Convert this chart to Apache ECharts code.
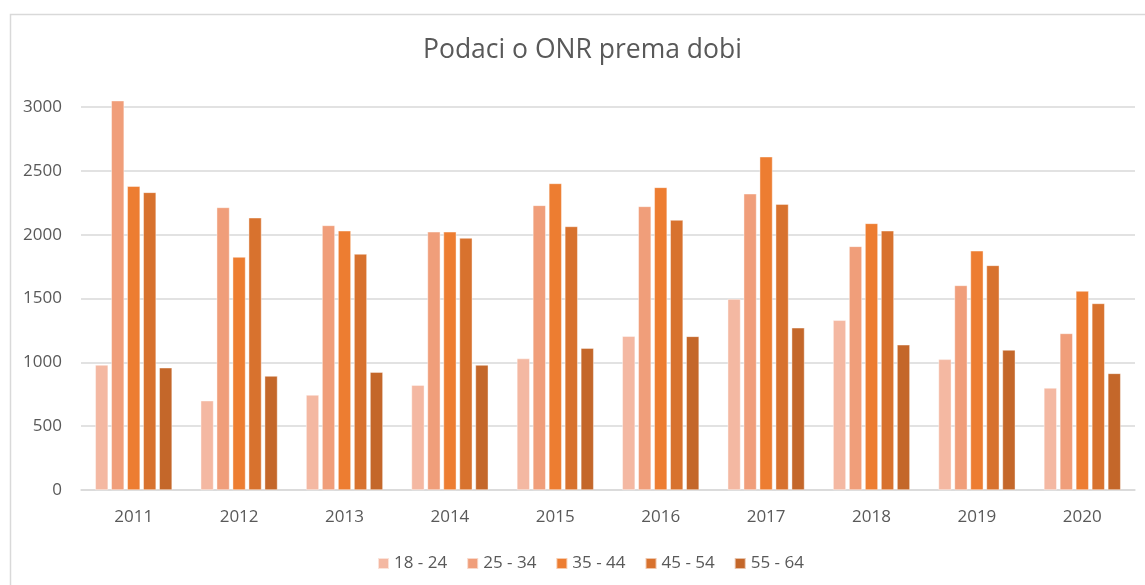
<!DOCTYPE html>
<html><head><meta charset="utf-8">
<script src="https://cdn.jsdelivr.net/npm/echarts@6/dist/echarts.min.js"></script>
<style>html,body{margin:0;padding:0;background:#fff}#c{width:1145px;height:585px}</style>
</head><body><div id="c"></div>
<script>
const categories = ['2011','2012','2013','2014','2015','2016','2017','2018','2019','2020'];
const seriesNames = ['18 - 24','25 - 34','35 - 44','45 - 54','55 - 64'];
const s18_24 = [980, 700, 745, 822, 1030, 1205, 1496, 1330, 1024, 800];
const s25_34 = [3050, 2214, 2073, 2023, 2230, 2222, 2321, 1909, 1603, 1227];
const s35_44 = [2380, 1825, 2031, 2023, 2402, 2371, 2611, 2089, 1874, 1559];
const s45_54 = [2332, 2133, 1849, 1974, 2065, 2115, 2240, 2031, 1760, 1462];
const s55_64 = [958, 893, 924, 979, 1112, 1204, 1271, 1138, 1097, 914];
const yTicks = [0, 500, 1000, 1500, 2000, 2500, 3000];
const colors = ['#F4B8A2', '#F09E7A', '#ED7D31', '#D8722E', '#C4672A'];

const allData = [s18_24, s25_34, s35_44, s45_54, s55_64];
const font = '"Open Sans", "Liberation Sans", sans-serif';
const chart = echarts.init(document.getElementById('c'), null, {renderer: 'canvas'});
chart.setOption({
  animation: false,
  color: colors,
  textStyle: {fontFamily: font},
  title: {
    text: 'Podaci o ONR prema dobi', left: 418, top: 32,
    textStyle: {fontFamily: font, fontSize: 26.5, fontWeight: 'normal', color: '#595959'}
  },
  graphic: [{
    type: 'rect', left: 8, top: 12, shape: {width: 1160, height: 620},
    style: {fill: 'none', stroke: '#d9d9d9', lineWidth: 1.5}, silent: true, z: -1
  }],
  grid: {left: 81, right: 10, top: 107, bottom: 95, containLabel: false},
  legend: {
    data: seriesNames, top: 550, left: 372, itemWidth: 11, itemHeight: 11, itemGap: 19,
    icon: 'rect',
    textStyle: {fontFamily: font, fontSize: 17, color: '#595959'}
  },
  xAxis: {
    type: 'category', data: categories,
    axisLine: {lineStyle: {color: '#d9d9d9', width: 1.5}},
    axisTick: {show: false},
    axisLabel: {fontFamily: font, fontSize: 17, color: '#595959', margin: 19}
  },
  yAxis: {
    type: 'value', min: yTicks[0], max: yTicks[yTicks.length - 1], interval: 500,
    axisLine: {show: false}, axisTick: {show: false},
    splitLine: {lineStyle: {color: '#d9d9d9', width: 1.5}},
    axisLabel: {fontFamily: font, fontSize: 17, color: '#595959', margin: 19,
      formatter: v => String(v)}
  },
  series: seriesNames.map((n, i) => ({
    name: n, type: 'bar', data: allData[i], clip: false,
    barWidth: 13, barGap: '23%',
    itemStyle: {borderColor: 'rgba(255,255,255,0.6)', borderWidth: 0.7}
  }))
});
</script></body></html>
